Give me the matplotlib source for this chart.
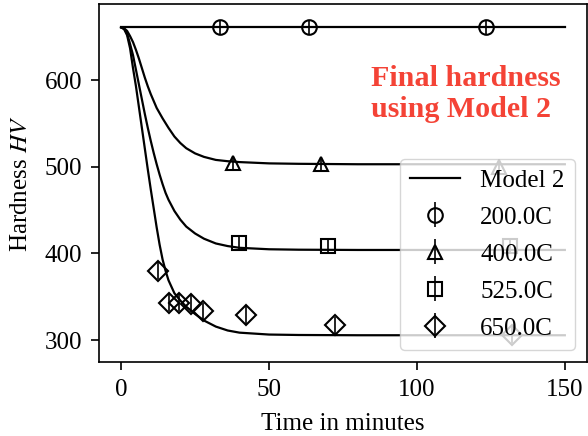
import matplotlib
matplotlib.use("Agg")
import matplotlib.pyplot as plt

plt.rcParams['font.family'] = ['Liberation Serif', 'DejaVu Serif']
plt.rcParams['font.size'] = 18
plt.rcParams['mathtext.fontset'] = 'stix'

# model curves
t_model = [0, 1, 2, 3, 4, 5, 6, 7, 8, 9, 10, 11, 12, 13, 14, 15, 16, 18, 20, 22, 25, 28, 32, 36, 40, 50, 60, 80, 100, 150]
h_200 = [661] * len(t_model)
h_400 = [661, 660, 657, 651, 644, 635, 625, 614, 603, 593, 584, 576, 568, 562, 556, 550.5, 545, 535, 527.5, 521.5, 515.5, 511.5, 508, 506.5, 505.5, 504, 503.5, 503, 503, 503]
h_525 = [661, 659.5, 654, 642, 629, 612, 595, 578, 561, 545, 530, 516, 503, 491, 480, 470, 462, 449, 439, 431, 423, 417, 411.5, 408.5, 406.5, 404.8, 404.3, 404, 404, 404]
h_650 = [661, 659, 652, 637, 614, 593, 569, 545, 521, 497, 474, 452, 430, 410, 393, 380, 369, 354, 345.5, 338.5, 330, 322.5, 315.5, 311, 308.5, 306.3, 305.8, 305.5, 305.5, 305.5]

# measured points
t_200 = [33.3, 63.4, 123.4]
y_200 = [661, 661, 661]
e_200 = [8, 8, 8]

t_400 = [37.8, 67.4, 127.6]
y_400 = [504.5, 503.5, 500]
e_400 = [7, 7, 7]

t_525 = [39.8, 70.0, 131.5]
y_525 = [411.5, 408, 408]
e_525 = [8, 8, 8]

t_650 = [12.6, 16.0, 19.7, 23.5, 27.6, 42.3, 72.4, 132.3]
y_650 = [380, 343, 343, 342, 333, 329, 317, 306]
e_650 = [10, 10, 10, 10, 10, 10, 10, 10]

fig = plt.figure(figsize=(5.88, 4.36), dpi=100)
ax = fig.add_axes([99 / 588, 74 / 436, 488 / 588, 357.5 / 436])

ax.plot(t_model, h_200, color='k', lw=1.6, label='Model 2')
ax.plot(t_model, h_400, color='k', lw=1.6)
ax.plot(t_model, h_525, color='k', lw=1.6)
ax.plot(t_model, h_650, color='k', lw=1.6)

pts = [(t_200, y_200, e_200, 'o', '200.0C'),
       (t_400, y_400, e_400, '^', '400.0C'),
       (t_525, y_525, e_525, 's', '525.0C'),
       (t_650, y_650, e_650, 'D', '650.0C')]
for t, y, e, m, lab in pts:
    ax.errorbar(t, y, yerr=e, fmt=m, ms=10.5, mfc='none', mec='k', mew=1.5,
                ecolor='k', elinewidth=1.2, capsize=0, label=lab)

ax.set_xlim(-7.5, 157.5)
ax.set_ylim(274.6, 687.5)
ax.set_xticks([0, 50, 100, 150])
ax.set_yticks([300, 400, 500, 600])
ax.tick_params(direction='out', length=6, width=1.2, pad=6)
for s in ax.spines.values():
    s.set_linewidth(1.2)

ax.set_xlabel('Time in minutes', labelpad=9)
ax.set_ylabel('Hardness $HV$', labelpad=9)

ax.text(84.5, 584, 'Final hardness\nusing Model 2', color='#f44336',
        fontsize='large', fontweight='bold', ha='left', va='center')

ax.legend(loc='lower right', labelspacing=0.58)

fig.savefig('out.png', dpi=100)
